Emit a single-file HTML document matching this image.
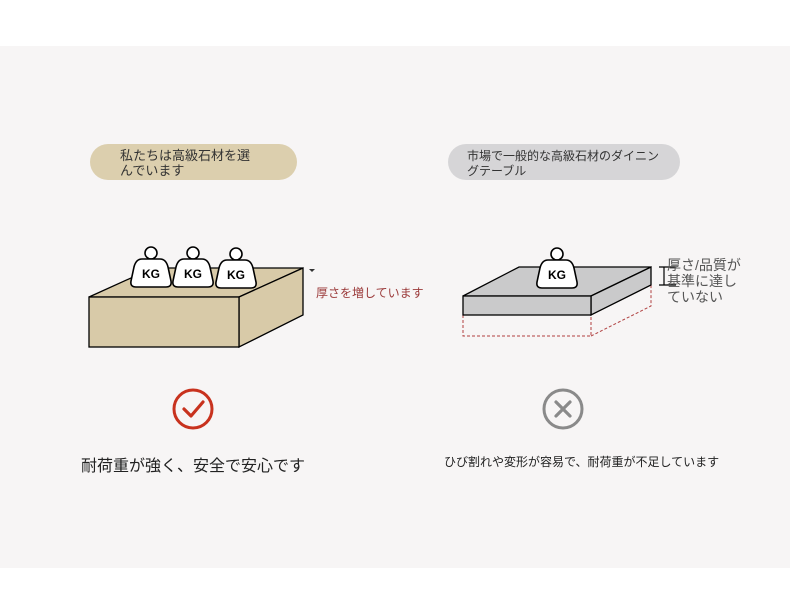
<!DOCTYPE html>
<html><head><meta charset="utf-8"><style>
html,body{margin:0;padding:0;width:790px;height:614px;background:#fff;overflow:hidden}
svg{display:block}
text{font-family:"Liberation Sans","Noto Sans CJK JP",sans-serif}
</style></head><body>
<svg width="790" height="614" viewBox="0 0 790 614" xmlns="http://www.w3.org/2000/svg">
<defs>
<g id="kg">
<circle cx="0" cy="-34" r="6" fill="#fff" stroke="#000" stroke-width="1.6"/>
<path d="M-9,-28 L9,-28 Q15,-28 17,-20 L20,-6 Q21,0 15,0 L-15,0 Q-21,0 -20,-6 L-17,-20 Q-15,-28 -9,-28 Z" fill="#fff" stroke="#000" stroke-width="1.6"/>
<text x="0" y="-9" text-anchor="middle" font-size="12" font-weight="bold" fill="#000">KG</text>
</g>
</defs>
<rect x="0" y="46" width="790" height="522" fill="#f7f5f5"/>

<rect x="90" y="144" width="207" height="36" rx="18" fill="#dccfae"/>
<text x="120" y="160" font-size="13" fill="#333">私たちは高級石材を選</text>
<text x="120" y="175" font-size="13" fill="#333">んでいます</text>
<rect x="448" y="144" width="232" height="36" rx="18" fill="#d6d5d7"/>
<text x="467" y="160" font-size="12" fill="#333">市場で一般的な高級石材のダイニン</text>
<text x="467" y="175" font-size="12" fill="#333">グテーブル</text>

<polygon points="89,297 153,268 303,268 239,297" fill="#d8caa8" stroke="#000" stroke-width="1.3"/>
<polygon points="239,297 303,268 303,315 239,347" fill="#d8caa8" stroke="#000" stroke-width="1.3"/>
<rect x="89" y="297" width="150" height="50" fill="#d8caa8" stroke="#000" stroke-width="1.3"/>
<use href="#kg" transform="translate(151,287)"/>
<use href="#kg" transform="translate(193,287)"/>
<use href="#kg" transform="translate(236,288)"/>
<path d="M309,269 L315,269 L312,272 Z" fill="#333"/>
<text x="316" y="297" font-size="12" fill="#9b3a3a">厚さを増しています</text>

<g fill="none" stroke="#b04040" stroke-width="1" stroke-dasharray="3,2">
<path d="M463,315 L463,336 L591,336 L591,315"/>
<path d="M591,336 L651,306 L651,285"/>
</g>
<polygon points="463,296 519,267 651,267 591,296" fill="#cacacb" stroke="#000" stroke-width="1.3"/>
<polygon points="591,296 651,267 651,285 591,315" fill="#cacacb" stroke="#000" stroke-width="1.3"/>
<rect x="463" y="296" width="128" height="19" fill="#cacacb" stroke="#000" stroke-width="1.3"/>
<use href="#kg" transform="translate(557,288)"/>
<path d="M659,267 L676,267 M659,285 L676,285 M664,267 L664,285" stroke="#000" stroke-width="1.2" fill="none"/>
<text x="667" y="270" font-size="14" fill="#555">厚さ/品質が</text>
<text x="667" y="286" font-size="14" fill="#555">基準に達し</text>
<text x="667" y="302" font-size="14" fill="#555">ていない</text>

<circle cx="193" cy="409" r="19" fill="none" stroke="#c8321e" stroke-width="3"/>
<path d="M184,409 L191,416 L203,402" fill="none" stroke="#c8321e" stroke-width="3.2" stroke-linecap="round" stroke-linejoin="round"/>
<circle cx="563" cy="409" r="19" fill="none" stroke="#8a8a8a" stroke-width="3"/>
<path d="M556,402 L570,416 M570,402 L556,416" stroke="#8a8a8a" stroke-width="3.2" stroke-linecap="round"/>

<text x="81" y="471" font-size="16" fill="#222">耐荷重が強く、安全で安心です</text>
<text x="444" y="466" font-size="12" fill="#222">ひび割れや変形が容易で、耐荷重が不足しています</text>
</svg>
</body></html>
